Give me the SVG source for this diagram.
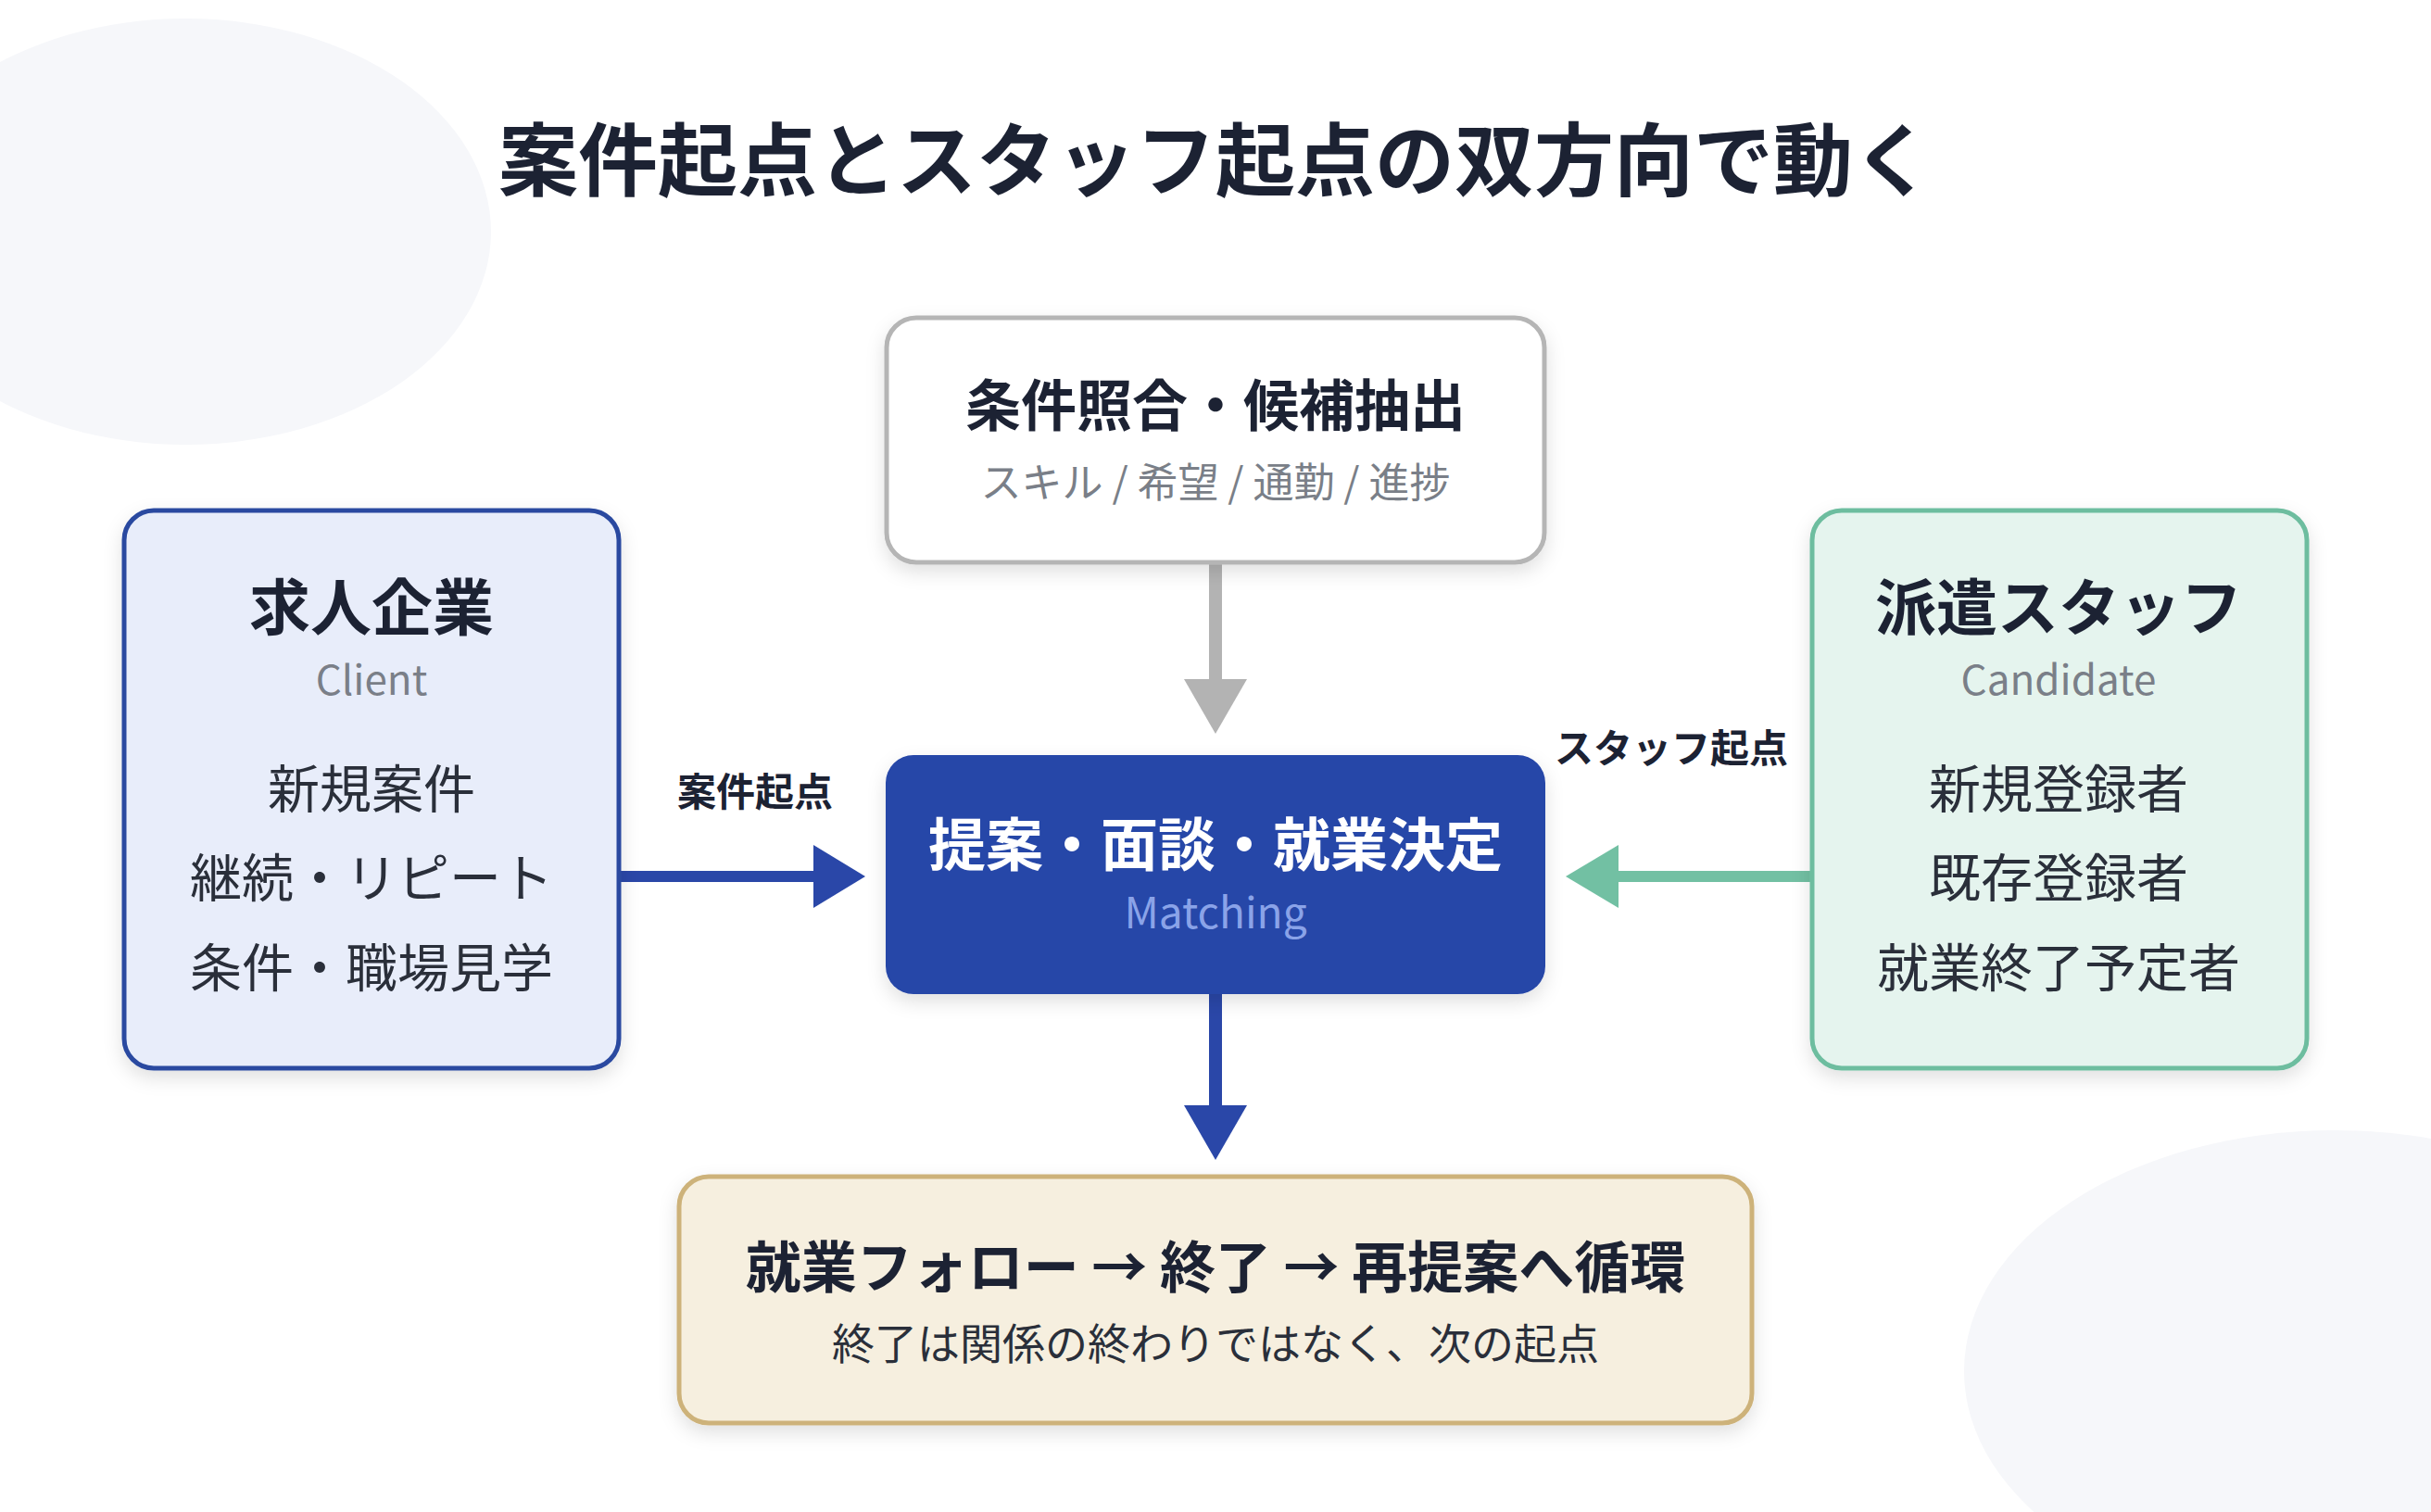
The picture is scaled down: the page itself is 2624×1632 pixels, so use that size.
<svg xmlns="http://www.w3.org/2000/svg" width="2624" height="1632" viewBox="0 0 2624 1632">
<style>
text{font-family:"Noto Sans CJK JP","Noto Sans",sans-serif;text-anchor:middle}
.t{font-weight:700;fill:#1c2233}
.s{fill:#7a7f88}
.b{fill:#2a2f3a}
</style>
<defs>
<filter id="sh" x="-10%" y="-10%" width="120%" height="130%"><feDropShadow dx="0" dy="8" stdDeviation="10" flood-color="#000" flood-opacity="0.12"/></filter>
</defs>
<rect width="2624" height="1632" fill="#ffffff"/>
<ellipse cx="200" cy="250" rx="330" ry="230" fill="#f6f7fa"/>
<ellipse cx="2520" cy="1480" rx="400" ry="260" fill="#f6f7fa"/>
<text x="1312" y="205" class="t" font-size="86">案件起点とスタッフ起点の双方向で動く</text>
<g id="connectors">
<line x1="1312" y1="607" x2="1312" y2="740" stroke="#b3b3b3" stroke-width="14"/>
<polygon points="1278,733 1346,733 1312,792" fill="#b3b3b3"/>
<line x1="668" y1="946" x2="880" y2="946" stroke="#2a47a8" stroke-width="12"/>
<polygon points="878,912 878,980 934,946" fill="#2a47a8"/>
<text x="815" y="870" class="t" font-size="42">案件起点</text>
<line x1="1956" y1="946" x2="1745" y2="946" stroke="#72c0a3" stroke-width="12"/>
<polygon points="1747,912 1747,980 1690,946" fill="#72c0a3"/>
<text x="1804" y="823" class="t" font-size="42">スタッフ起点</text>
<line x1="1312" y1="1073" x2="1312" y2="1200" stroke="#2a47a8" stroke-width="14"/>
<polygon points="1278,1193 1346,1193 1312,1252" fill="#2a47a8"/>
</g>
<g id="top">
<rect x="957" y="343" width="710" height="264" rx="32" fill="#fff" stroke="#b5b5b5" stroke-width="5" filter="url(#sh)"/>
<text x="1312" y="460" class="t" font-size="60">条件照合・候補抽出</text>
<text x="1312" y="537" class="s" font-size="44">スキル / 希望 / 通勤 / 進捗</text>
</g>
<g id="client">
<rect x="134" y="551" width="534" height="602" rx="32" fill="#e8edfa" stroke="#2a4aa0" stroke-width="5" filter="url(#sh)"/>
<text x="401" y="680" class="t" font-size="66">求人企業</text>
<text x="401" y="750" class="s" font-size="44">Client</text>
<text x="401" y="872" class="b" font-size="56">新規案件</text>
<text x="401" y="968" class="b" font-size="56">継続・リピート</text>
<text x="401" y="1065" class="b" font-size="56">条件・職場見学</text>
</g>
<g id="candidate">
<rect x="1956" y="551" width="534" height="602" rx="32" fill="#e5f4ee" stroke="#6dbd9f" stroke-width="5" filter="url(#sh)"/>
<text x="2222" y="680" class="t" font-size="66">派遣スタッフ</text>
<text x="2222" y="750" class="s" font-size="44">Candidate</text>
<text x="2222" y="872" class="b" font-size="56">新規登録者</text>
<text x="2222" y="968" class="b" font-size="56">既存登録者</text>
<text x="2222" y="1065" class="b" font-size="56">就業終了予定者</text>
</g>
<g id="matching">
<rect x="956" y="815" width="712" height="258" rx="30" fill="#2847a8" filter="url(#sh)"/>
<text x="1312" y="935" font-size="62" font-weight="700" fill="#fff">提案・面談・就業決定</text>
<text x="1312" y="1002" font-size="46" fill="#8aa3e8">Matching</text>
</g>
<g id="follow">
<rect x="733" y="1270" width="1158" height="266" rx="32" fill="#f6efdf" stroke="#cdb27a" stroke-width="5" filter="url(#sh)"/>
<text x="1312" y="1390" class="t" font-size="60">就業フォロー → 終了 → 再提案へ循環</text>
<text x="1312" y="1467" class="b" font-size="46">終了は関係の終わりではなく、次の起点</text>
</g>
</svg>
